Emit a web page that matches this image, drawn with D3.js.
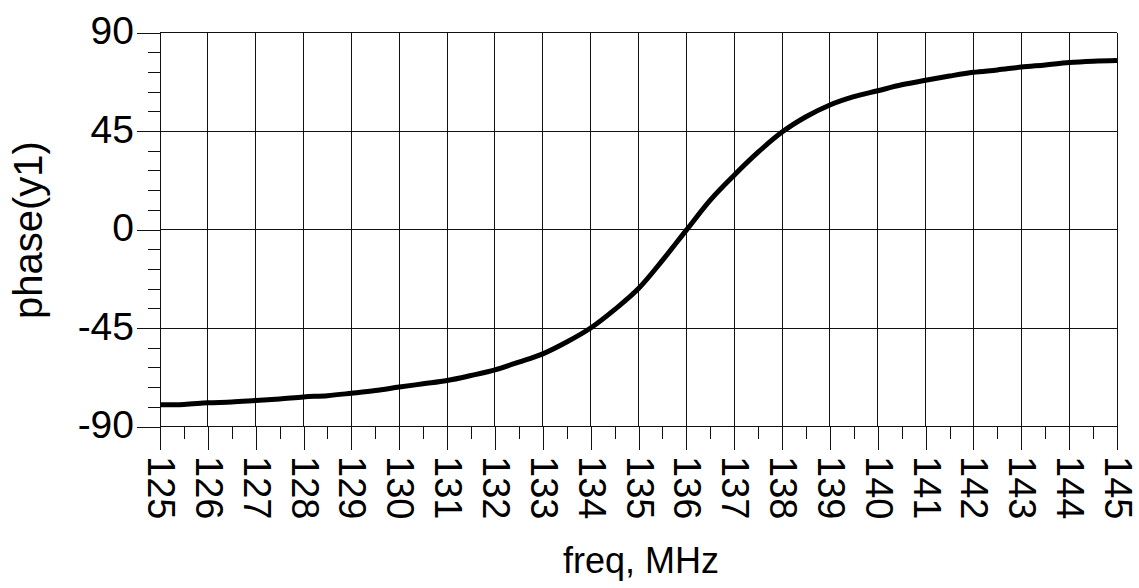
<!DOCTYPE html>
<html>
<head>
<meta charset="utf-8">
<script src="https://cdn.jsdelivr.net/npm/d3@7"></script>
<style>
  html, body { margin: 0; padding: 0; background: #fff; }
  svg { display: block; font-family: "Liberation Sans", Arial, sans-serif; }
</style>
</head>
<body>
<div id="chart"></div>
<script>
// frequency points (MHz) and phase readings (deg)
const freqs = [125, 125.5, 126, 126.5, 127, 127.5, 128, 128.5, 129, 129.5,
  130, 130.5, 131, 131.5, 132, 132.5, 133, 133.5, 134, 134.5,
  135, 135.5, 136, 136.5, 137, 137.5, 138, 138.5, 139, 139.5,
  140, 140.5, 141, 141.5, 142, 142.5, 143, 143.5, 144, 144.5, 145];
const phase = [-80.1, -79.9, -79.2, -78.8, -78.1, -77.4, -76.5, -75.9, -74.8, -73.6,
  -72.0, -70.5, -69.0, -66.7, -64.1, -60.6, -56.8, -51.4, -45.0, -36.6,
  -27.0, -14.1, -0.3, 13.4, 24.8, 35.3, 44.5, 51.5, 56.9, 60.7,
  63.4, 66.1, 68.2, 70.1, 71.8, 72.9, 74.2, 75.2, 76.3, 76.9, 77.2];

const xTicks = d3.range(125, 146, 1);
const xMinorTicks = d3.range(125.5, 145, 1);
const yTicks = [-90, -45, 0, 45, 90];
const yMinorTicks = d3.range(-90, 91, 9).filter(v => v % 45 !== 0);

const xLabel = "freq, MHz";
const yLabel = "phase(y1)";

const width = 1139, height = 588;
const plot = { left: 160, right: 1117, top: 32.5, bottom: 426.5 };

let svg = d3.select("#chart").append("svg")
  .attr("width", width)
  .attr("height", height);

let x = d3.scaleLinear().domain([125, 145]).range([plot.left, plot.right]);
let y = d3.scaleLinear().domain([-90, 90]).range([plot.bottom, plot.top]);

// grid
let grid = svg.append("g")
  .attr("stroke", "#111")
  .attr("stroke-width", 1)
  .attr("shape-rendering", "crispEdges");

grid.selectAll(".vgrid").data(xTicks).enter().append("line")
  .attr("x1", d => x(d)).attr("x2", d => x(d))
  .attr("y1", plot.top).attr("y2", plot.bottom);

grid.selectAll(".hgrid").data(yTicks).enter().append("line")
  .attr("x1", plot.left).attr("x2", plot.right)
  .attr("y1", d => y(d)).attr("y2", d => y(d));

// x axis ticks
let xAxis = svg.append("g")
  .attr("transform", `translate(0,${plot.bottom})`)
  .call(d3.axisBottom(x).tickValues(xTicks).tickSize(23).tickFormat(""));
xAxis.select(".domain").remove();

let xMinor = svg.append("g")
  .attr("transform", `translate(0,${plot.bottom})`)
  .call(d3.axisBottom(x).tickValues(xMinorTicks).tickSize(12).tickFormat(""));
xMinor.select(".domain").remove();

// y axis ticks
let yAxis = svg.append("g")
  .attr("transform", `translate(${plot.left},0)`)
  .call(d3.axisLeft(y).tickValues(yTicks).tickSize(23).tickFormat(""));
yAxis.select(".domain").remove();

let yMinor = svg.append("g")
  .attr("transform", `translate(${plot.left},0)`)
  .call(d3.axisLeft(y).tickValues(yMinorTicks).tickSize(12).tickFormat(""));
yMinor.select(".domain").remove();

svg.selectAll(".tick line")
  .attr("stroke", "#111")
  .attr("shape-rendering", "crispEdges");

// tick labels
svg.append("g").selectAll("text").data(xTicks).enter().append("text")
  .attr("transform", d => `translate(${x(d) - 12},456) rotate(90)`)
  .attr("font-size", 38)
  .attr("text-anchor", "start")
  .attr("fill", "#000")
  .text(d => d);

svg.append("g").selectAll("text").data(yTicks).enter().append("text")
  .attr("x", 134)
  .attr("y", d => y(d) + 11.5)
  .attr("font-size", 39)
  .attr("text-anchor", "end")
  .attr("fill", "#000")
  .text(d => d);

// axis titles
svg.append("text")
  .attr("x", 641)
  .attr("y", 573)
  .attr("font-size", 36)
  .attr("text-anchor", "middle")
  .attr("fill", "#000")
  .text(xLabel);

svg.append("text")
  .attr("transform", "translate(42,230) rotate(-90)")
  .attr("font-size", 40)
  .attr("text-anchor", "middle")
  .attr("fill", "#000")
  .text(yLabel);

// curve
let line = d3.line()
  .x((d, i) => x(freqs[i]))
  .y(d => y(d))
  .curve(d3.curveMonotoneX);

svg.append("path")
  .datum(phase)
  .attr("d", line)
  .attr("fill", "none")
  .attr("stroke", "#000")
  .attr("stroke-width", 5)
  .attr("stroke-linejoin", "round");
</script>
</body>
</html>
